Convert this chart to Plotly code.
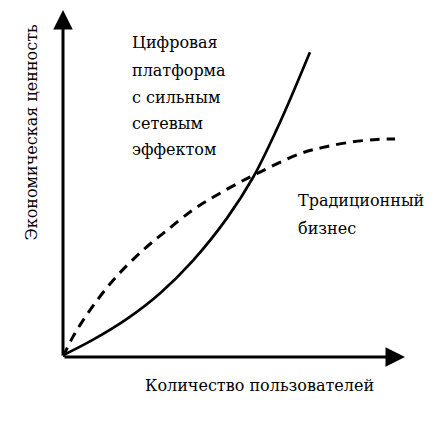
import plotly.graph_objects as go

# users (x) vs economic value (y), arbitrary units
platform_x = [0, 0.88, 1.87, 2.84, 3.80, 4.80, 5.56, 6.26, 6.73, 7.22]
platform_y = [0.05, 0.50, 1.10, 1.84, 2.78, 4.01, 5.18, 6.58, 7.63, 8.78]

traditional_x = [0, 0.29, 0.79, 1.5, 2.34, 3.0, 3.8, 4.4, 5.1, 5.76, 6.93, 7.6, 8.4, 9.18, 9.71]
traditional_y = [0, 0.58, 1.35, 2.25, 3.08, 3.62, 4.24, 4.61, 5.0, 5.33, 5.86, 6.04, 6.19, 6.27, 6.28]

platform_label = ["Цифровая", "платформа", "с сильным", "сетевым", "эффектом"]
platform_label_y = [9.05, 8.26, 7.48, 6.72, 5.97]
traditional_label = ["Традиционный", "бизнес"]
traditional_label_y = [4.50, 3.70]

x_title = "Количество пользователей"
y_title = "Экономическая ценность"

# Liberation Serif has no Cyrillic here, DejaVu Serif does
FONT = "DejaVu Serif"

fig = go.Figure()
fig.add_trace(go.Scatter(x=platform_x, y=platform_y, mode="lines",
                         line=dict(color="black", width=2.7, shape="spline", smoothing=1)))
fig.add_trace(go.Scatter(x=traditional_x, y=traditional_y, mode="lines",
                         line=dict(color="black", width=3, shape="spline", smoothing=1, dash="10px,7px")))

# axes drawn as arrows
fig.add_annotation(x=10, y=0, ax=0, ay=0, xref="x", yref="y", axref="x", ayref="y",
                   showarrow=True, arrowhead=2, arrowsize=1.3, arrowwidth=3, arrowcolor="black", text="")
fig.add_annotation(x=0, y=10, ax=0, ay=0, xref="x", yref="y", axref="x", ayref="y",
                   showarrow=True, arrowhead=2, arrowsize=1.3, arrowwidth=3, arrowcolor="black", text="")

for txt, yy in zip(platform_label, platform_label_y):
    fig.add_annotation(x=1.96, y=yy, text=txt, showarrow=False,
                       xanchor="left", yanchor="middle",
                       font=dict(family=FONT, size=16, color="black"))
for txt, yy in zip(traditional_label, traditional_label_y):
    fig.add_annotation(x=6.82, y=yy, text=txt, showarrow=False,
                       xanchor="left", yanchor="middle",
                       font=dict(family=FONT, size=16, color="black"))

fig.add_annotation(x=0.575, y=-0.115, xref="paper", yref="paper", text=x_title, showarrow=False,
                   font=dict(family=FONT, size=16, color="black"))
fig.add_annotation(x=-0.126, y=0.648, xref="paper", yref="paper", text=y_title, showarrow=False,
                   textangle=-90, font=dict(family=FONT, size=16, color="black"))

# page body has an 8px margin, so the figure is shrunk by that
fig.update_layout(
    width=431, height=414,
    margin=dict(l=55, r=34, t=2, b=65),
    showlegend=False,
    plot_bgcolor="white", paper_bgcolor="white",
    xaxis=dict(range=[0, 10], visible=False),
    yaxis=dict(range=[0, 10], visible=False),
)

fig.write_html("out.html")
